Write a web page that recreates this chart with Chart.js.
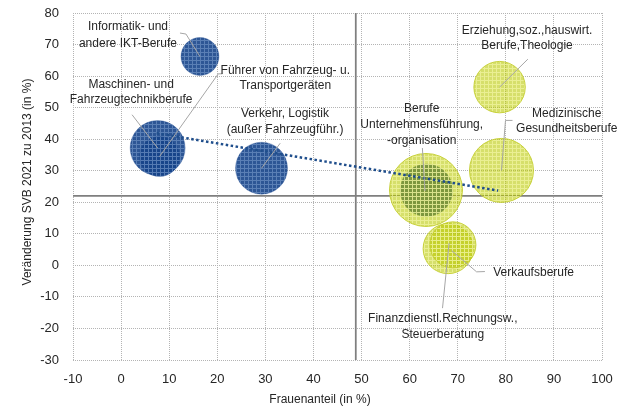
<!DOCTYPE html>
<html><head><meta charset="utf-8">
<script src="https://cdn.jsdelivr.net/npm/chart.js@4/dist/chart.umd.min.js"></script>
<style>html,body{margin:0;padding:0;background:#fff}#wrap{width:620px;height:409px;position:relative}</style>
</head><body><div id="wrap"><canvas id="c" width="620" height="409"></canvas></div>
<script>
// ---- data ----
const blueNames = ["Informatik- und andere IKT-Berufe", "Maschinen- und Fahrzeugtechnikberufe", "Führer von Fahrzeug- u. Transportgeräten", "Verkehr, Logistik (außer Fahrzeugführ.)", ""];
const blueX = [16.4, 7.6, 8.0, 29.2, 63.5];
const blueY = [66.2, 37.2, 34.5, 30.8, 23.8];
const blueSize = [19, 27.5, 20, 26, 26.3];

const yellowNames = ["Berufe Unternehmensführung, -organisation", "Erziehung,soz.,hauswirt. Berufe,Theologie", "Medizinische Gesundheitsberufe", "Finanzdienstl.Rechnungsw., Steuerberatung", "Verkaufsberufe"];
const yellowX = [63.4, 78.7, 79.1, 68.0, 69.0];
const yellowY = [23.9, 56.5, 30.1, 5.3, 6.5];
const yellowSize = [36.5, 25.7, 32, 25, 23];

const trendX = [7.4, 78.4];
const trendY = [41.9, 23.7];

const meanX = [48.8];
const meanY = [22];

const xTickValues = [-10, 0, 10, 20, 30, 40, 50, 60, 70, 80, 90, 100];
const yTickValues = [-30, -20, -10, 0, 10, 20, 30, 40, 50, 60, 70, 80];
const xTitle = "Frauenanteil (in %)";
const yTitle = "Veränderung SVB 2021 zu 2013 (in %)";

// label texts (as shown in the chart)
const labelTexts = [
  ["Informatik- und", "andere IKT-Berufe"],
  ["Maschinen- und", "Fahrzeugtechnikberufe"],
  ["Führer von Fahrzeug- u.", "Transportgeräten"],
  ["Verkehr, Logistik", "(außer Fahrzeugführ.)"],
  ["Berufe", "Unternehmensführung,", "-organisation"],
  ["Erziehung,soz.,hauswirt.", "Berufe,Theologie"],
  ["Medizinische", "Gesundheitsberufe"],
  ["Finanzdienstl.Rechnungsw.,", "Steuerberatung"],
  ["Verkaufsberufe"]
];

// dataset indices: 0 = trend line, 1 = yellow bubbles, 2 = blue bubbles
// ---- layout of labels (pixel offsets relative to bubble centre) ----
const labelLayout = [
  {ds:2, i:0, dx:-72,   dy:-29.5, lh:17, leader:[[-20,-23.5],[-14,-22.5],[0,0]]},
  {ds:2, i:1, dx:-26.5, dy:-63,   lh:15, leader:[[-25.6,-33.3],[0,0]]},
  {ds:2, i:2, dx:125.7, dy:-86,   lh:15.5, leader:[[62.7,-82.7],[58.7,-82.7],[0,0]]},
  {ds:2, i:3, dx:23.5,  dy:-55,   lh:16, leader:[[18.7,-25],[0,0]]},
  {ds:1, i:0, dx:-4.3,  dy:-81.5, lh:16, leader:[[-3.6,-42],[-1,1]]},
  {ds:1, i:1, dx:27.5,  dy:-56.6, lh:15.5, leader:[[28.3,-28],[0,0]]},
  {ds:1, i:2, dx:65.3,  dy:-56.4, lh:15, leader:[[11,-50],[4,-50],[0,0]]},
  {ds:1, i:3, dx:-5.3,  dy:70.5,  lh:15.7, leader:[[-5.6,59.5],[1,-5.5]]},
  {ds:1, i:4, dx:80.7,  dy:27.7,  lh:15, leader:[[32,26.7],[23.7,27],[-1.3,5.7]]}
];

const ctx0 = document.getElementById('c').getContext('2d');
function patternCanvas(base, line) {
  const p = document.createElement('canvas'); p.width = 4; p.height = 4;
  const g = p.getContext('2d');
  g.fillStyle = base; g.fillRect(0, 0, 4, 4);
  g.fillStyle = line; g.fillRect(0, 0, 4, 1); g.fillRect(0, 1, 1, 3);
  return p;
}
const bluePattern = ctx0.createPattern(patternCanvas('rgba(22,68,138,0.9)', 'rgba(110,145,195,0.7)'), 'repeat');
const yellowPattern = ctx0.createPattern(patternCanvas('rgba(185,200,0,0.58)', 'rgba(240,244,160,0.75)'), 'repeat');

const FONT = "'Liberation Sans', Arial, sans-serif";

const overlay = {
  id: 'overlay',
  beforeDatasetsDraw(chart) {
    const {ctx, chartArea: a, scales: {x, y}} = chart;
    ctx.save();
    ctx.strokeStyle = '#7f7f7f'; ctx.lineWidth = 1.75;
    const px = x.getPixelForValue(meanX[0]);
    const py = y.getPixelForValue(meanY[0]);
    ctx.beginPath();
    ctx.moveTo(px, a.top); ctx.lineTo(px, a.bottom);
    ctx.moveTo(a.left, py); ctx.lineTo(a.right, py);
    ctx.stroke();
    ctx.restore();
  },
  afterDatasetsDraw(chart) {
    const {ctx} = chart;
    ctx.save();
    labelLayout.forEach((L, k) => {
      const el = chart.getDatasetMeta(L.ds).data[L.i];
      const cx = el.x, cy = el.y;
      ctx.strokeStyle = '#a6a6a6'; ctx.lineWidth = 1;
      ctx.beginPath();
      L.leader.forEach((p, j) => { if (j === 0) ctx.moveTo(cx + p[0], cy + p[1]); else ctx.lineTo(cx + p[0], cy + p[1]); });
      ctx.stroke();
      ctx.fillStyle = '#262626';
      ctx.font = "12px " + FONT;
      ctx.textAlign = 'center'; ctx.textBaseline = 'middle';
      labelTexts[k].forEach((t, j) => ctx.fillText(t, cx + L.dx, cy + L.dy + j * L.lh));
    });
    // axis titles
    ctx.fillStyle = '#262626';
    ctx.font = "12px " + FONT;
    ctx.textAlign = 'center'; ctx.textBaseline = 'middle';
    ctx.fillText(xTitle, 320, 400);
    ctx.translate(28, 182); ctx.rotate(-Math.PI / 2);
    ctx.fillText(yTitle, 0, 0);
    ctx.restore();
  }
};

new Chart(document.getElementById('c'), {
  type: 'bubble',
  data: {
    datasets: [
      {
        type: 'line', label: 'Trend', order: 0,
        data: trendX.map((v, i) => ({x: v, y: trendY[i]})),
        borderColor: '#1F4E8C', borderWidth: 2.5, borderDash: [2.5, 2.5],
        pointRadius: 0, fill: false, tension: 0
      },
      {
        label: 'Frauenberufe', order: 1,
        data: yellowX.map((v, i) => ({x: v, y: yellowY[i], r: yellowSize[i]})),
        backgroundColor: yellowPattern, borderColor: 'rgba(195,205,45,0.9)', borderWidth: 1,
        hoverRadius: 0
      },
      {
        label: 'Männerberufe', order: 2,
        data: blueX.map((v, i) => ({x: v, y: blueY[i], r: blueSize[i]})),
        backgroundColor: bluePattern, borderColor: 'rgba(22,68,138,0.6)', borderWidth: 0.5,
        hoverRadius: 0
      }
    ]
  },
  options: {
    responsive: false, devicePixelRatio: 1, animation: false,
    layout: {autoPadding: false, padding: {left: 0, top: 13, right: 18, bottom: 0}},
    plugins: {legend: {display: false}, tooltip: {enabled: false}},
    scales: {
      x: {
        type: 'linear', min: xTickValues[0], max: xTickValues[xTickValues.length - 1],
        afterBuildTicks(s) { s.ticks = xTickValues.map(v => ({value: v})); },
        afterFit(s) { s.height = 49; s.paddingLeft = 0; s.paddingRight = 0; s.paddingTop = 0; s.paddingBottom = 0; },
        grid: {color: '#b4b4b4', lineWidth: 1, drawTicks: false},
        border: {display: false, dash: [1, 1]},
        ticks: {color: '#262626', font: {family: FONT, size: 13}, padding: 12, maxRotation: 0}
      },
      y: {
        type: 'linear', min: yTickValues[0], max: yTickValues[yTickValues.length - 1],
        afterBuildTicks(s) { s.ticks = yTickValues.map(v => ({value: v})); },
        afterFit(s) { s.width = 73; s.paddingLeft = 0; s.paddingRight = 0; s.paddingTop = 0; s.paddingBottom = 0; },
        grid: {color: '#b4b4b4', lineWidth: 1, drawTicks: false},
        border: {display: false, dash: [1, 1]},
        ticks: {color: '#262626', font: {family: FONT, size: 13}, padding: 14}
      }
    }
  },
  plugins: [overlay]
});
</script></body></html>
